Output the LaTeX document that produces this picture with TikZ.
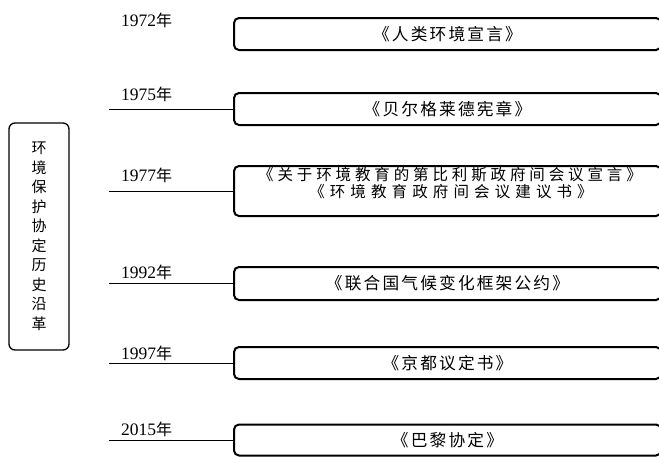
\documentclass[tikz,border=0pt]{standalone}
\usepackage{fontspec}
\setmainfont{Liberation Serif}
\newfontfamily\cjk{Noto Sans CJK SC}
\newfontfamily\cjkls[LetterSpace=13]{Noto Sans CJK SC}
\newfontfamily\cjklsb[LetterSpace=25]{Noto Sans CJK SC}
\newfontfamily\cjklsc[LetterSpace=33]{Noto Sans CJK SC}
\begin{document}
\begin{tikzpicture}[x=1pt,y=-1pt,
  yearlbl/.style={anchor=base west, inner sep=0pt, font=\fontsize{17.5}{20}\selectfont},
  itembox/.style={draw, line width=2pt, rounded corners=5pt, minimum width=427pt, inner sep=0pt, font=\cjkls\fontsize{16.7}{18}\selectfont},
  boxtextA/.style={anchor=base, inner sep=0pt, font=\cjklsb\fontsize{15.5}{17}\selectfont},
  boxtextB/.style={anchor=base, inner sep=0pt, font=\cjklsc\fontsize{15.5}{17}\selectfont},
  sidebox/.style={draw, line width=1.3pt, rounded corners=6pt, minimum width=60pt, minimum height=227pt, inner sep=0pt, align=center, font=\cjk\fontsize{15}{19.5}\selectfont},
  conn/.style={line width=1pt}]
\useasboundingbox (0,0) rectangle (659,456);

% side box
\node[sidebox] (side) at (39,236.5) {环\\境\\保\\护\\协\\定\\历\\史\\沿\\革};

% item boxes
\node[itembox, minimum height=32pt] (b1) at (447.5,34) {《人类环境宣言》};
\node[itembox, minimum height=32pt] (b2) at (447.5,109) {《贝尔格莱德宪章》};
\node[itembox, minimum height=50pt] (b3) at (447.5,191) {};
\node[boxtextA] (t3a) at (450,180.5) {《关于环境教育的第比利斯政府间会议宣言》};
\node[boxtextB] (t3b) at (451,197.5) {《环境教育政府间会议建议书》};
\node[itembox, minimum height=33pt] (b4) at (447.5,283.5) {《联合国气候变化框架公约》};
\node[itembox, minimum height=32pt] (b5) at (447.5,363) {《京都议定书》};
\node[itembox, minimum height=31pt] (b6) at (447.5,440) {《巴黎协定》};

% year labels
\node[yearlbl] (y1) at (121,26) {1972{\cjk\fontsize{16}{18}\selectfont 年}};
\node[yearlbl] (y2) at (121,100) {1975{\cjk\fontsize{16}{18}\selectfont 年}};
\node[yearlbl] (y3) at (121,181) {1977{\cjk\fontsize{16}{18}\selectfont 年}};
\node[yearlbl] (y4) at (121,278) {1992{\cjk\fontsize{16}{18}\selectfont 年}};
\node[yearlbl] (y5) at (121,359) {1997{\cjk\fontsize{16}{18}\selectfont 年}};
\node[yearlbl] (y6) at (121,435) {2015{\cjk\fontsize{16}{18}\selectfont 年}};

% connectors
\coordinate (c2) at (109,109);
\coordinate (c3) at (109,191);
\coordinate (c4) at (109,283.5);
\coordinate (c5) at (109,363);
\coordinate (c6) at (109,440);
\draw[conn] (c2) -- (b2.west);
\draw[conn] (c3) -- (b3.west);
\draw[conn] (c4) -- (b4.west);
\draw[conn] (c5) -- (b5.west);
\draw[conn] (c6) -- (b6.west);
\end{tikzpicture}
\end{document}
